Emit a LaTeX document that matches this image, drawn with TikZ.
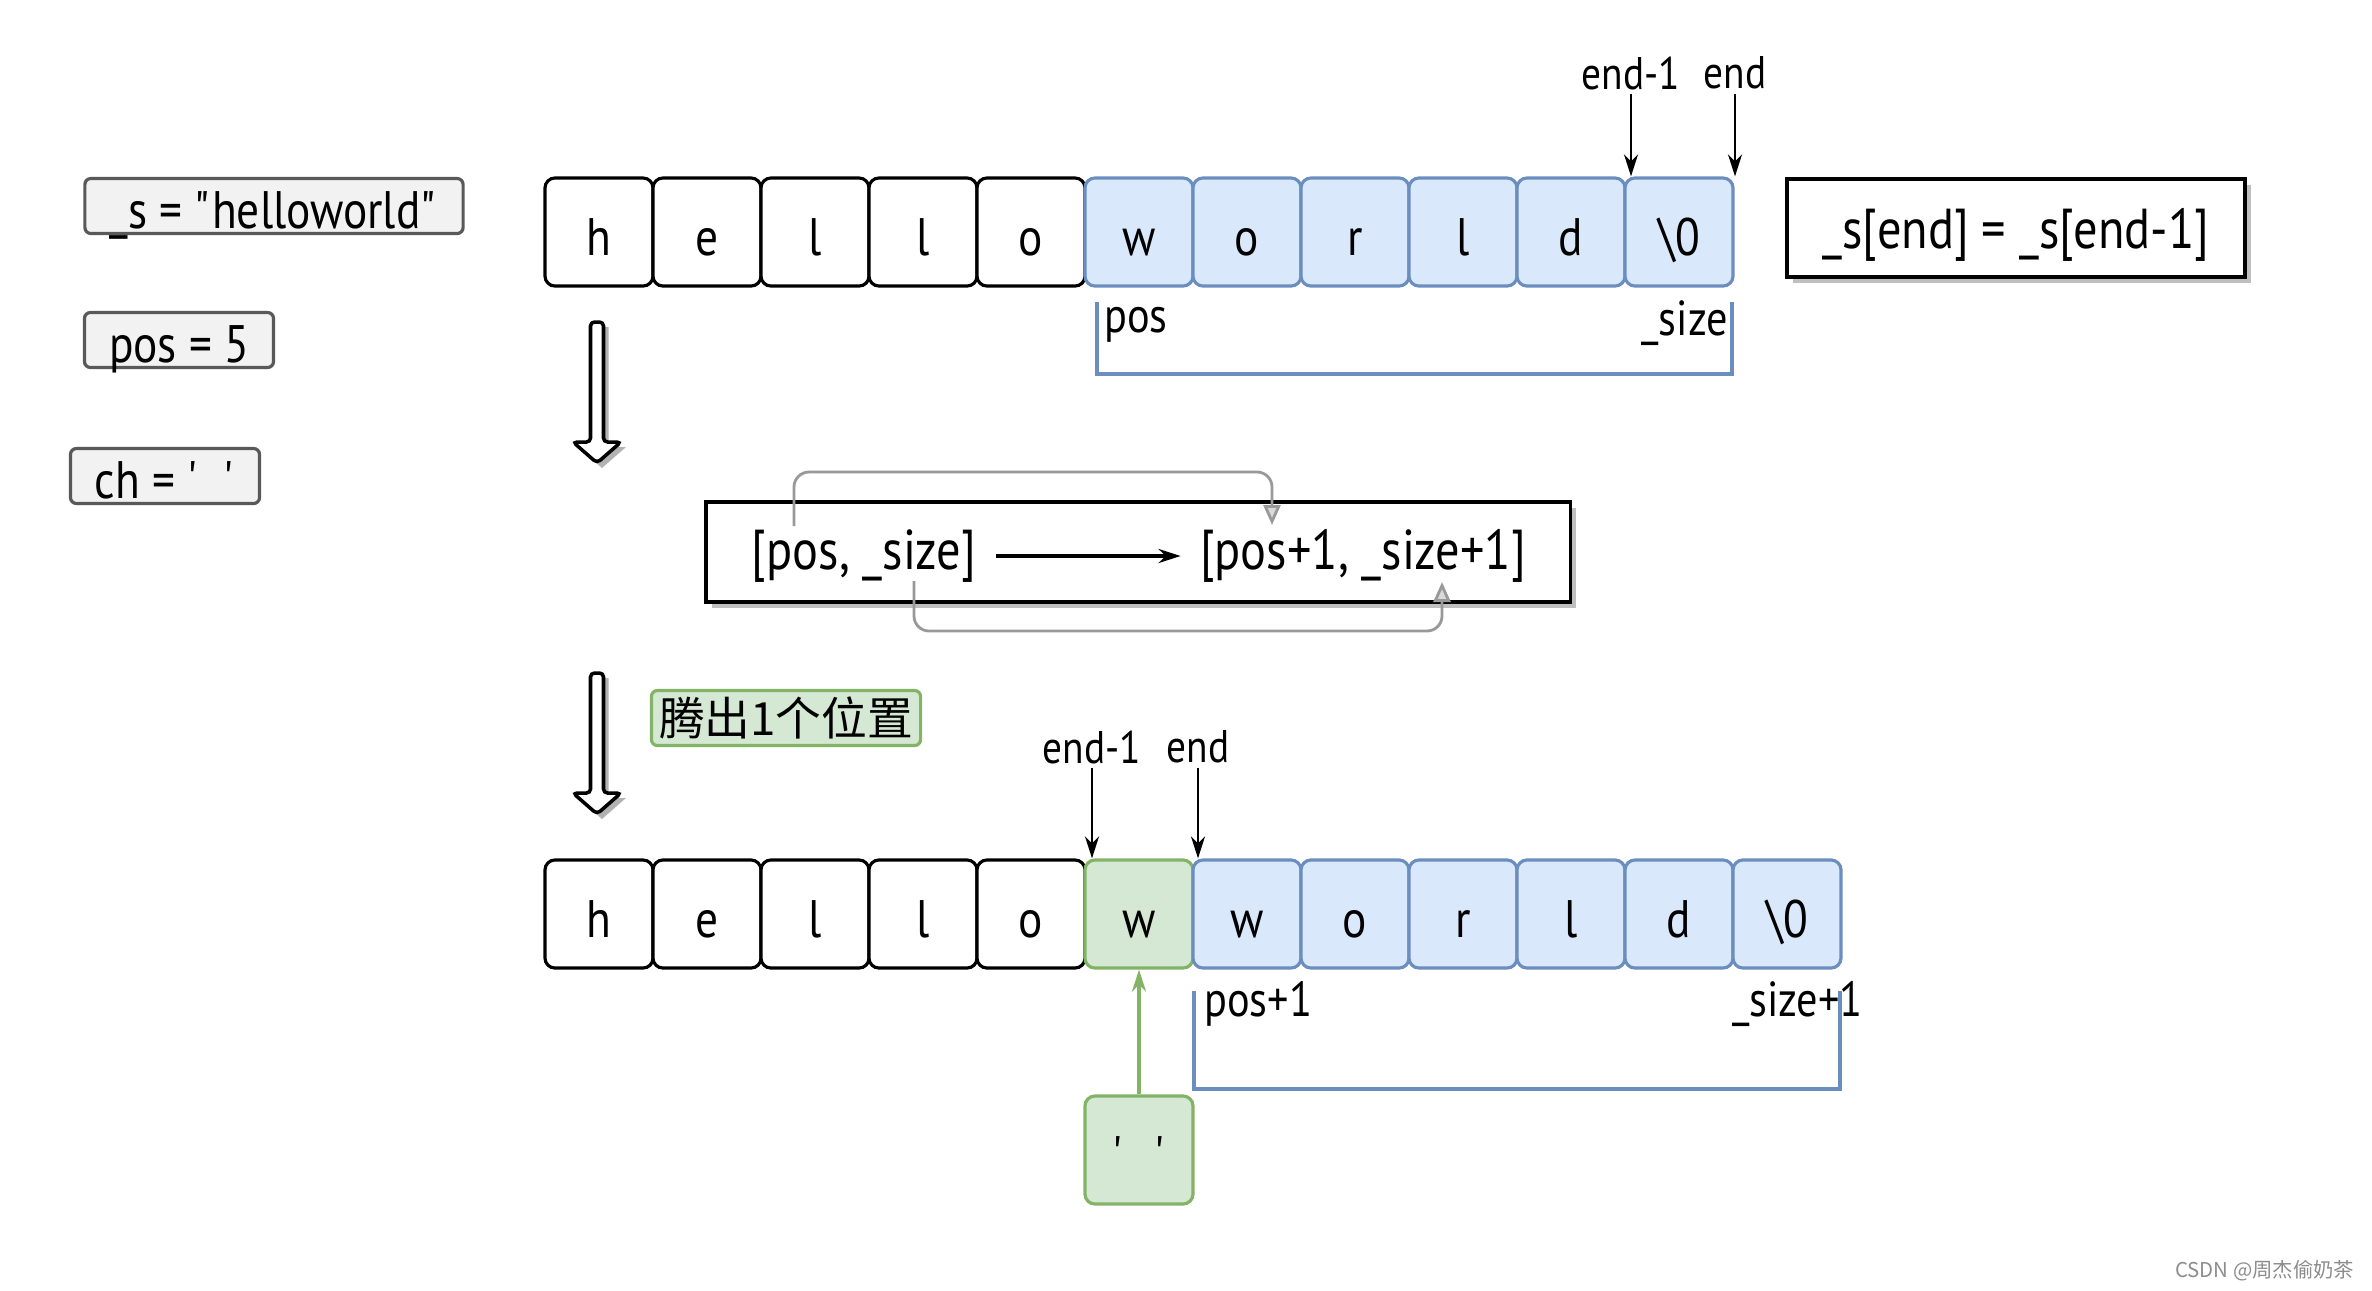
\documentclass[tikz,border=0pt]{standalone}
\usepackage{fontspec}
\newfontfamily\handfont{PT Sans}[FakeStretch=0.86]
\newfontfamily\cjk{Noto Sans CJK SC}
\usetikzlibrary{arrows.meta,shadows}
\definecolor{cellblue}{HTML}{DAE8FC}
\definecolor{lineblue}{HTML}{6C8EBF}
\definecolor{cellgreen}{HTML}{D5E8D4}
\definecolor{linegreen}{HTML}{82B366}
\definecolor{boxgray}{HTML}{F2F2F2}
\newcommand{\dquote}{\XeTeXglyph\XeTeXcharglyph"22\relax}
\newcommand{\squote}{\XeTeXglyph\XeTeXcharglyph"27\relax}
\tikzset{
	flowarrow/.pic={
		\fill[black!30] (-1.5,5) -- (11.5,5) -- (11.5,125) -- (29,125) -- (5,146) -- (-19,125) -- (-1.5,125) -- cycle;
		\draw[fill=white, line width=1pt, rounded corners=0.04cm] (-6.5,0) -- (6.5,0) -- (6.5,120) -- (24,120) -- (0,141) -- (-24,120) -- (-6.5,120) -- cycle;
	}
}
\begin{document}
\begin{tikzpicture}[x=0.01cm, y=-0.01cm, font=\handfont,
	cell/.style={draw, rounded corners=0.1cm, minimum size=1.08cm, inner sep=0, line width=0.9pt, text height=0.47cm, text depth=0cm, font=\handfont\fontsize{15}{17}\selectfont},
	hello/.style={cell, fill=white},
	world/.style={cell, fill=cellblue, draw=lineblue},
	moved/.style={cell, fill=cellgreen, draw=linegreen},
	var/.style={draw=black!65, fill=boxgray, rounded corners=0.06cm, inner sep=0, line width=0.9pt, minimum height=0.55cm, text height=0.44cm, text depth=0cm, font=\handfont\fontsize{15}{17}\selectfont},
	note/.style={draw, fill=white, line width=1pt, inner sep=0, drop shadow={shadow xshift=0.06cm, shadow yshift=-0.06cm, fill=black!25, opacity=1}},
	tag/.style={inner sep=1pt, font=\handfont\fontsize{13}{15}\selectfont},
	ptr/.style={-{Stealth[length=0.22cm, width=0.14cm]}, line width=0.8pt},
	conn/.style={draw=black!40, rounded corners=0.15cm, line width=0.8pt, -{Triangle[open, fill=black!15, length=0.2cm, width=0.17cm]}},
	bracket/.style={draw=lineblue, line width=0.9pt}]
	\useasboundingbox (0,0) rectangle (2372,1290);

	\node (S) at (274,206) [var, minimum width=3.78cm] {\_s = \dquote helloworld\dquote};
	\node (P) at (179,340) [var, minimum width=1.89cm] {pos = 5};
	\node (C) at (165,476) [var, minimum width=1.89cm] {ch = \squote\hspace{0.25cm}\squote};

	\node (T0) at (599,232) [hello] {h};
	\node (T1) at (707,232) [hello] {e};
	\node (T2) at (815,232) [hello] {l};
	\node (T3) at (923,232) [hello] {l};
	\node (T4) at (1031,232) [hello] {o};
	\node (T5) at (1139,232) [world] {w};
	\node (T6) at (1247,232) [world] {o};
	\node (T7) at (1355,232) [world] {r};
	\node (T8) at (1463,232) [world] {l};
	\node (T9) at (1571,232) [world] {d};
	\node (T10) at (1679,232) [world] {\textbackslash 0};

	\node (TE1) at (1631,73) [tag] {end-1};
	\node (TE2) at (1735,73) [tag] {end};
	\draw[ptr] (TE1.south) -- (TE1.south |- T10.north);
	\draw[ptr] (TE2.south) -- (TE2.south |- T10.north);

	\node (EQ) at (2016,228) [note, minimum width=4.58cm, minimum height=0.98cm, text height=0.52cm, text depth=0.11cm, font=\handfont\fontsize{16}{18}\selectfont] {\_s[end] = \_s[end-1]};

	\draw[bracket] (1097,302) -- (1097,374) -- (1732,374) -- (1732,302);
	\node (TP) at (1100,325) [tag, anchor=west, font=\handfont\fontsize{14}{16}\selectfont] {pos};
	\node (TS) at (1732,323) [tag, anchor=east, font=\handfont\fontsize{14}{16}\selectfont] {\_size};

	\pic at (597,322) {flowarrow};

	\node (M) at (1138,552) [note, minimum width=8.64cm, minimum height=1.0cm] {};
	\node (MA) at (864,556) [font=\handfont\fontsize{16}{18}\selectfont] {[pos, \_size]};
	\node (MB) at (1363,556) [font=\handfont\fontsize{16}{18}\selectfont] {[pos+1, \_size+1]};
	\draw[ptr, line width=1pt, shorten <=2pt, shorten >=2pt] (MA) -- (MB);
	\coordinate (pA) at (794,526);
	\coordinate (pB) at (1272,525);
	\coordinate (pC) at (914,581);
	\coordinate (pD) at (1442,582);
	\draw[conn] (pA) -- (794,472) -| (pB);
	\draw[conn] (pC) -- (914,631) -| (pD);

	\pic at (597,673) {flowarrow};
	\node (G) at (786,718) [var, fill=cellgreen, draw=linegreen, minimum width=2.69cm, text height=, text depth=, font=\cjk\fontsize{13}{15}\selectfont] {腾出1个位置};

	\node (B0) at (599,914) [hello] {h};
	\node (B1) at (707,914) [hello] {e};
	\node (B2) at (815,914) [hello] {l};
	\node (B3) at (923,914) [hello] {l};
	\node (B4) at (1031,914) [hello] {o};
	\node (B5) at (1139,914) [moved] {w};
	\node (B6) at (1247,914) [world] {w};
	\node (B7) at (1355,914) [world] {o};
	\node (B8) at (1463,914) [world] {r};
	\node (B9) at (1571,914) [world] {l};
	\node (B10) at (1679,914) [world] {d};
	\node (B11) at (1787,914) [world] {\textbackslash 0};

	\node (BE1) at (1092,747) [tag] {end-1};
	\node (BE2) at (1198,747) [tag] {end};
	\draw[ptr] (BE1.south) -- (BE1.south |- B5.north);
	\draw[ptr] (BE2.south) -- (BE2.south |- B6.north);

	\draw[bracket] (1194,991) -- (1194,1089) -- (1840,1089) -- (1840,991);
	\node (BP) at (1200,1004) [tag, anchor=west, font=\handfont\fontsize{14}{16}\selectfont] {pos+1};
	\node (BS) at (1867,1004) [tag, anchor=east, font=\handfont\fontsize{14}{16}\selectfont] {\_size+1};

	\node (CH) at (1139,1150) [moved] {\squote\hspace{0.3cm}\squote};
	\draw[ptr, draw=linegreen, line width=1pt] (CH) -- (B5);

	\node (WM) at (2355,1271) [anchor=east, inner sep=0, text=black!45, font=\cjk\fontsize{5.8}{7}\selectfont] {CSDN @周杰偷奶茶};
\end{tikzpicture}
\end{document}
